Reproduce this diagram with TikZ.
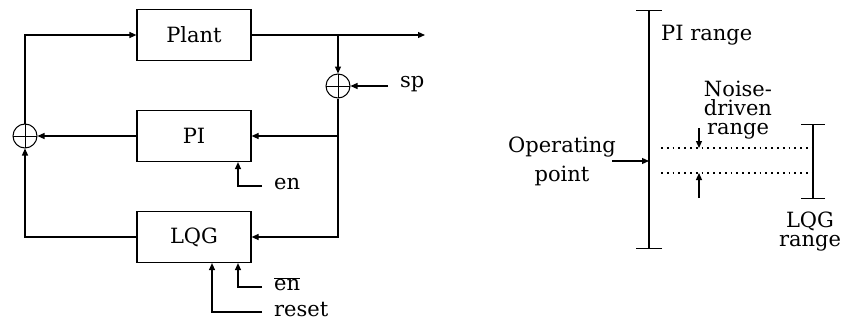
\documentclass[tikz,border=0pt]{standalone}
\usepackage{fontspec}
\setmainfont{DejaVu Serif}
\usepackage{tikz}
\usetikzlibrary{calc,arrows.meta,positioning}
\tikzset{
  lbl/.style    ={inner sep=2pt, font=\fontsize{21}{19}\selectfont},
  inlbl/.style  ={lbl, anchor=west, inner xsep=12pt},
  block/.style  ={rectangle, draw, line width=1.2pt, minimum width=114pt,
                  minimum height=51pt, font=\fontsize{21}{19}\selectfont},
  sumnode/.style={circle, draw, line width=1pt, minimum size=24pt, inner sep=0pt,
                  path picture={\draw[line width=1pt]
                    (path picture bounding box.north) -- (path picture bounding box.south)
                    (path picture bounding box.west) -- (path picture bounding box.east);}},
  sig/.style    ={-{Triangle[length=7pt,width=6pt]}, line width=1.2pt},
  rangebar/.style={{Bar[width=26pt]}-{Bar[width=26pt]}, line width=1.2pt},
  lqgbar/.style ={{Bar[width=24pt]}-{Bar[width=24pt]}, line width=1.2pt},
  level/.style  ={line width=1.8pt, dash pattern=on 1.8pt off 4pt},
}
\begin{document}
\begin{tikzpicture}[x=1pt,y=-1pt]
  \useasboundingbox (0,0) rectangle (844,324);
  % control loop
  \node[block] (plant) at (194,35) {Plant};
  \node[block] (pi) at (194,136) {PI};
  \node[block] (lqg) at (194,237) {LQG};
  \node[sumnode] (sumR) at (338,86) {};
  \node[sumnode] (sumL) at (25,136) {};
  \coordinate (out) at (425,35);
  \coordinate (tap) at (338,35);
  \coordinate (br) at (338,136);
  \draw[sig] (plant.east) -- (out);
  \draw[sig] (tap) -- (sumR.north);
  \node[inlbl] (sp) at (388,84) {sp};
  \draw[sig] (sp.west |- sumR.east) -- (sumR.east);
  \draw[sig] (sumR.south) |- (lqg.east);
  \draw[sig] (br) -- (pi.east);
  \draw[sig] (pi.west) -- (sumL.east);
  \draw[sig] (lqg.west) -| (sumL.south);
  \draw[sig] (sumL.north) |- (plant.west);
  \node[inlbl] (en) at (262,184) {en};
  \node[inlbl] (enbar) at (262,284) {$\overline{\mbox{en}}$};
  \node[inlbl] (reset) at (262,310) {reset};
  \draw[sig] (en.west) ++(0,2) -| ([xshift=44]pi.south);
  \draw[sig] (enbar.west) ++(0,3) -| ([xshift=44]lqg.south);
  \draw[sig] (reset.west) ++(0,2) -| ([xshift=18]lqg.south);
  % operating ranges
  \coordinate (piTop) at (649,10);
  \coordinate (piBot) at (649,249);
  \coordinate (opPt) at (649,161);
  \draw[rangebar] (piTop) -- (piBot);
  \node[lbl, anchor=west] (pirange) at (659,35) {PI range};
  \node[lbl, align=center, font=\fontsize{21}{29}\selectfont] (op) at (562,161) {Operating\\point};
  \draw[sig] ([xshift=-6]op.east |- opPt) -- (opPt);
  \coordinate (hiL) at (661,148);
  \coordinate (hiR) at (813,148);
  \coordinate (loL) at (661,173);
  \coordinate (loR) at (813,173);
  \draw[level] (hiL) -- (hiR);
  \draw[level] (loL) -- (loR);
  \coordinate (lqgTop) at (813,124);
  \coordinate (lqgBot) at (813,199);
  \draw[lqgbar] (lqgTop) -- (lqgBot);
  \node[lbl, align=center] (lqgrange) at (810,232) {LQG\\range};
  \node[lbl, align=center] (noise) at (738,110) {Noise-\\driven\\range};
  \coordinate (dnStart) at (699,128);
  \coordinate (dnEnd) at (699,148);
  \coordinate (upStart) at (699,198);
  \coordinate (upEnd) at (699,173);
  \draw[sig] (dnStart) -- (dnEnd);
  \draw[sig] (upStart) -- (upEnd);
\end{tikzpicture}
\end{document}
